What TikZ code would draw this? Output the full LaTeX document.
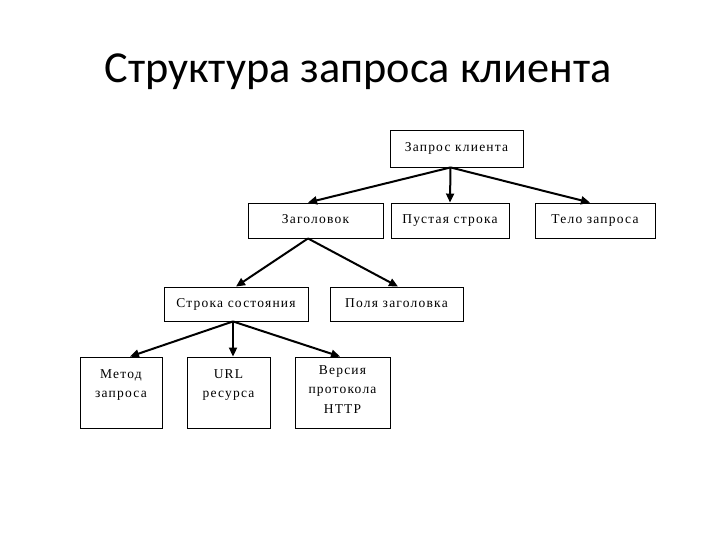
\documentclass[tikz,border=0pt]{standalone}
\usepackage{fontspec}
\setmainfont{Liberation Serif}
\newfontfamily\titlefont{Carlito}
\usetikzlibrary{arrows.meta}
\tikzset{
  box/.style={draw, line width=0.9pt, align=center, inner sep=2pt,
    text height=9pt, text depth=3pt,
    font=\fontsize{13.5}{19.5}\selectfont\addfontfeature{LetterSpace=9}},
  tallbox/.style={box, minimum height=71},
  link/.style={-{Triangle[length=9pt,width=8pt]}, line width=2pt}
}
\begin{document}
\begin{tikzpicture}[x=1pt,y=-1pt]
    \useasboundingbox (0,0) rectangle (720,540);
    \node[anchor=base, font=\titlefont\fontsize{44.3}{52}\selectfont] (title) at (358,83) {Структура запроса клиента};
    % top level
    \node[box, minimum width=133, minimum height=37] (req) at (456.5,148.5) {Запрос клиента};
    \node[box, minimum width=135, minimum height=35] (hdr) at (315.5,220.5) {Заголовок};
    \node[box, minimum width=118, minimum height=35] (empty) at (450,220.5) {Пустая строка};
    \node[box, minimum width=120, minimum height=35] (body) at (595,220.5) {Тело запроса};
    % header
    \node[box, minimum width=144, minimum height=34] (status) at (236,304) {Строка состояния};
    \node[box, minimum width=133, minimum height=34] (fields) at (396.5,304) {Поля заголовка};
    % status line
    \node[tallbox, minimum width=82, text height=38.5pt, text depth=28.5pt] (method) at (121,392.5) {Метод\\запроса};
    \node[tallbox, minimum width=83, text height=38.5pt, text depth=28.5pt] (url) at (228.5,392.5) {URL\\ресурса};
    \node[tallbox, minimum width=95, text height=54pt, text depth=13pt] (version) at (342.5,392.5) {Версия\\протокола\\HTTP};
    \draw[link] ([xshift=-6pt]req.south) -- ([xshift=-7.5pt]hdr.north);
    \draw[link] ([xshift=-6pt]req.south) -- (empty.north);
    \draw[link] ([xshift=-6pt]req.south) -- ([xshift=-5pt]body.north);
    \draw[link] ([xshift=-7.5pt]hdr.south) -- (status.north);
    \draw[link] ([xshift=-7.5pt]hdr.south) -- ([xshift=1.5pt]fields.north);
    \draw[link] ([xshift=-3pt]status.south) -- ([xshift=9pt]method.north);
    \draw[link] ([xshift=-3pt]status.south) -- ([xshift=4.5pt]url.north);
    \draw[link] ([xshift=-3pt]status.south) -- ([xshift=-2.5pt]version.north);
\end{tikzpicture}
\end{document}
